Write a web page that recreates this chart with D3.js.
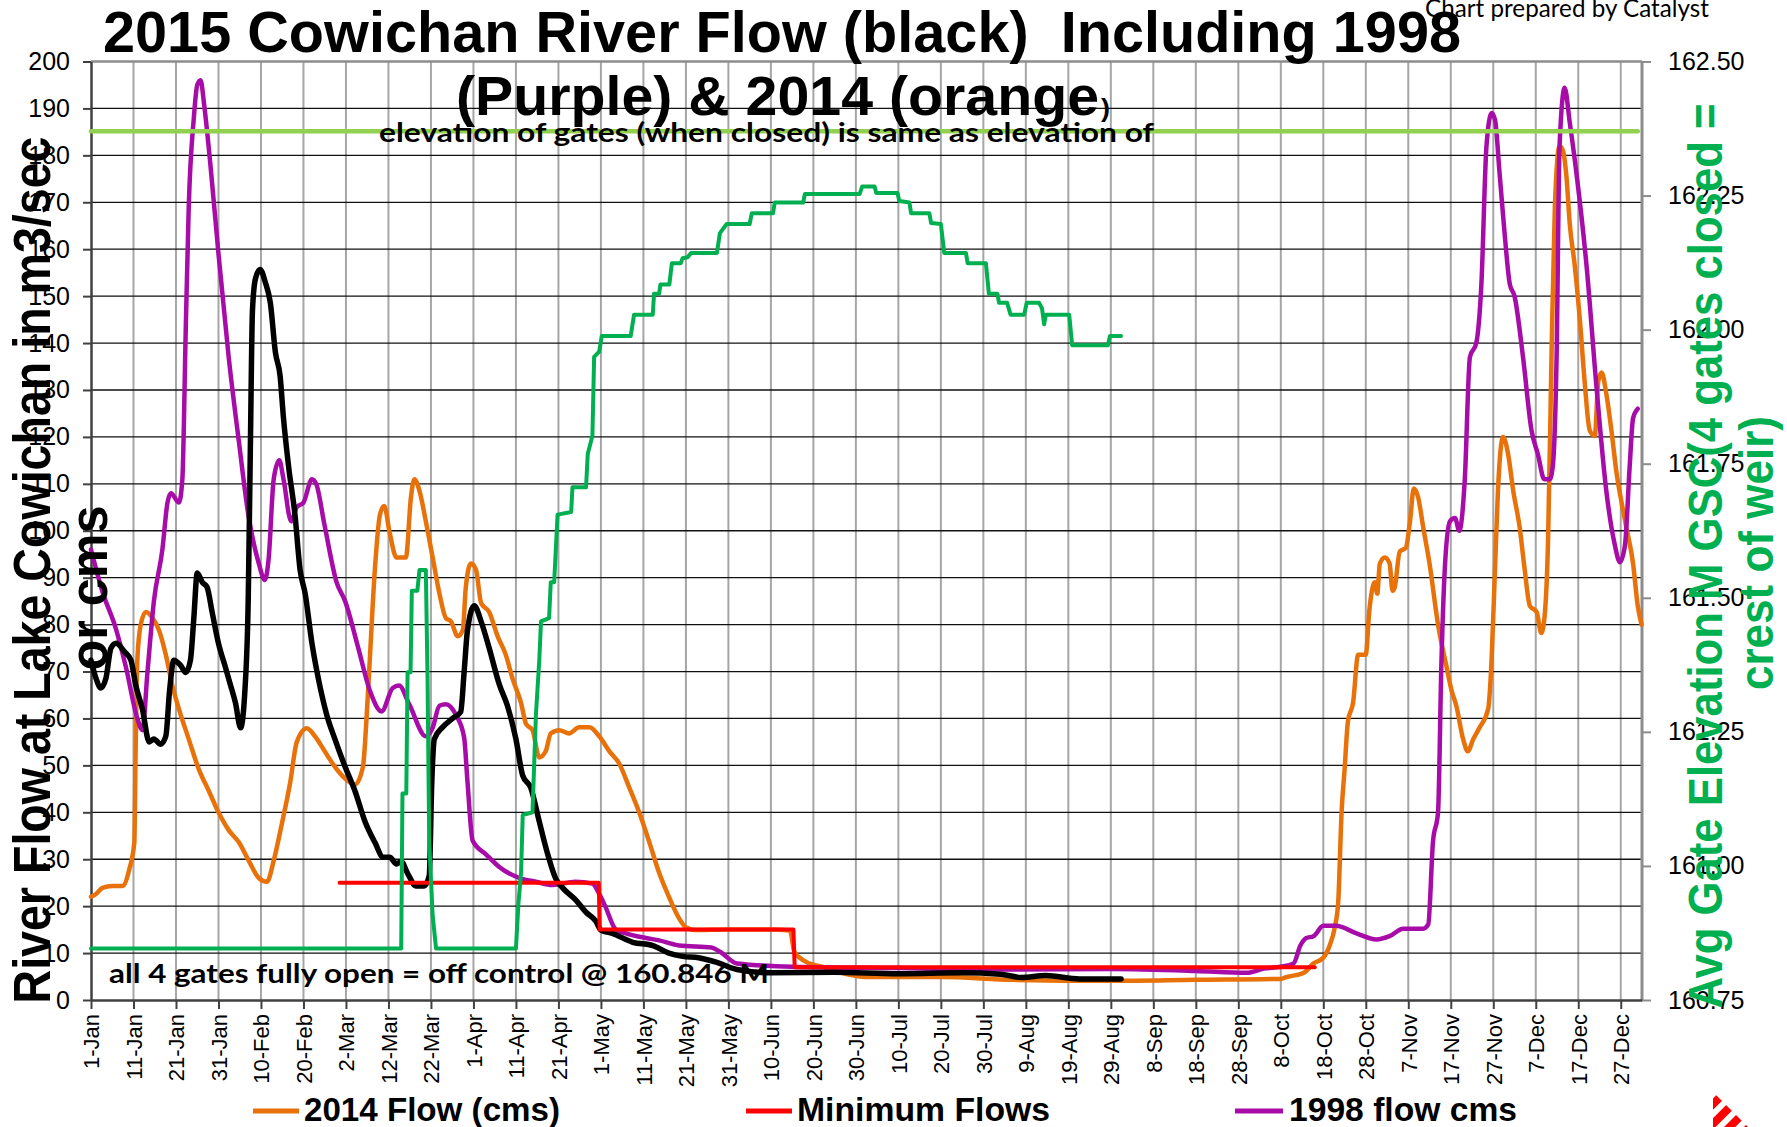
<!DOCTYPE html>
<html>
<head>
<meta charset="utf-8">
<script src="https://cdn.jsdelivr.net/npm/d3@7"></script>
<style>
  body { margin: 0; background: #fff; }
  svg { display: block; }
</style>
</head>
<body>
<div id="chart"></div>
<script>
// x tick labels, one every 10 days starting 1-Jan
const tickLabels = ["1-Jan", "11-Jan", "21-Jan", "31-Jan", "10-Feb", "20-Feb", "2-Mar", "12-Mar", "22-Mar",
    "1-Apr", "11-Apr", "21-Apr", "1-May", "11-May", "21-May", "31-May", "10-Jun", "20-Jun", "30-Jun",
    "10-Jul", "20-Jul", "30-Jul", "9-Aug", "19-Aug", "29-Aug", "8-Sep", "18-Sep", "28-Sep", "8-Oct",
    "18-Oct", "28-Oct", "7-Nov", "17-Nov", "27-Nov", "7-Dec", "17-Dec", "27-Dec"]

const leftTicks = [0, 10, 20, 30, 40, 50, 60, 70, 80, 90, 100, 110, 120, 130, 140, 150, 160, 170, 180, 190, 200]
const rightTicks = [160.75, 161.00, 161.25, 161.50, 161.75, 162.00, 162.25, 162.50]

// [day of year (0 = 1-Jan), flow cms]
const flow2015 = [[0,72.4],[1.2,68.5],[2.3,66.5],[3.5,68.5],[4.7,75],[5.9,76],[7.8,74.3],[9.4,72.4],[10.5,67.2],
    [12.1,62],[13.7,55],[14.8,55.6],[16.4,54.5],[17.6,56.2],[18.5,66],[19.5,72.4],[21.1,71.3],[22.3,69.8],
    [23.4,72.4],[24.2,81.4],[25,91],[26.2,89],[27.3,88],[28.5,82.7],[30,76],[31.6,71],[32.8,67.2],[34,63.3],
    [35.2,58],[36.3,67.2],[37,85.3],[37.5,117.6],[38,147],[38.7,153.7],[39.8,155.7],[41,153],[42.2,148.6],
    [43.4,138],[44.5,133],[45.3,124],[46.5,113.7],[48,103.4],[49.2,91.7],[50.4,86.6],[52,76],[53.5,68.5],
    [55.5,60.7],[57.4,55.6],[59.8,49.7],[62.1,44.6],[64.5,38],[66.8,33.6],[68.8,30.4],[70.3,30.4],[71.9,29],
    [73,29.5],[74.5,27],[76.5,24.3],[78.4,24.3],[79.6,26.5],[80.2,46.5],[80.8,55.6],[82.7,58.1],[85.1,60],
    [87,61.4],[87.8,69.8],[88.6,78.8],[90.2,84],[91.8,80.7],[93.7,75],[96.1,67.2],[98,62.7],[100,55.6],
    [101.6,47.8],[103.5,45.2],[105.5,38],[107.5,31],[109.4,25.8],[111,23.9],[114.1,21.3],[116.5,18.7],
    [118.8,16.8],[120,14.9],[122.7,14.2],[127.5,12.3],[132.2,11.6],[136,10],[139.2,9.3],[143,9],[147.3,8],
    [152,6.5],[159.8,5.8],[175,5.9],[190,5.6],[205,5.8],[214,5.5],[219,4.8],[224.7,5.2],[232.6,4.5],[242.4,4.5]]

const flow2014 = [[0,22],[1.2,22.6],[2.7,23.9],[5,24.3],[7.4,24.3],[9,27.8],[10.2,33.6],[10.5,53],[10.9,72.4],
    [11.7,80],[12.9,82.7],[14.5,81.4],[16,78.8],[17.6,73.6],[19.1,67.2],[20.7,62],[23,55.6],[25.4,49.1],
    [27.7,44.6],[30,40],[32.4,36.2],[34.8,33.6],[37.1,29.7],[39.5,26],[41.4,25.2],[43,29.7],[44.9,37.5],
    [46.9,46.5],[48.4,54.9],[50.8,57.9],[52.7,56.2],[55,53],[57.4,49.7],[59.8,47.2],[62.1,45.9],[64,49.7],
    [64.8,59.4],[65.6,72.4],[66.8,91.7],[68,103.4],[69,105.3],[70.3,99.5],[71.9,94.3],[74.1,94.3],[75.3,107.2],
    [76.1,111],[77.3,108.5],[78.8,102],[80.4,94.3],[82,86.6],[83.5,81.4],[84.7,80.7],[86.3,77.5],[87.5,78.8],
    [88.2,87.9],[89.4,93],[90.6,91.7],[91.8,84.6],[93.7,82.7],[95.7,77.5],[97.6,73.6],[99.2,68.5],[101.2,63.3],
    [102.4,58.8],[103.9,57.5],[105.5,51.7],[107,53],[108.2,56.8],[110.2,57.5],[112.5,56.8],[114.9,58.1],
    [117.3,58.1],[119.6,56.2],[122,53],[124.3,50.4],[126.7,45.2],[129,40],[131.4,33.6],[133.7,27.1],[136,22],
    [138.4,17.4],[140,15.5],[142.4,14.9],[150,15],[160,15],[164.5,14.8],[165.5,10.3],[166.8,9],[169,7.8],
    [172,7.1],[178,5.5],[183,4.9],[200,4.9],[217,4.3],[240,4.1],[260,4.3],[280,4.5],[281.4,4.9],[285.4,5.8],
    [287.7,7.8],[290,9],[291.5,11.6],[292.7,15.5],[293.5,20.7],[294.3,40],[295,49],[295.8,59.4],[297,63.3],
    [298.2,73.6],[300,73.6],[300.8,82.7],[301.6,87.9],[302.1,89],[302.7,86.6],[303.3,93],[304.5,94.3],
    [305.6,93],[306.3,87.2],[306.8,87.9],[308,95.6],[309.4,96.3],[310.4,102],[311.3,109],[312.3,107.2],
    [313.5,100.8],[315,93],[317,80],[319,71],[320.2,65.9],[321.3,62.7],[322.9,55.6],[324,53],[325.3,55.6],
    [326.8,58.1],[328.8,62],[329.6,72.4],[330.4,91.7],[331.1,108.5],[332.3,120],[333.5,116.3],[334.7,108.5],
    [336.2,100.8],[337.4,91.7],[338.6,84],[340.2,82.7],[341.3,78.2],[342.1,82],[342.9,98.2],[343.7,137],
    [344.5,169.2],[345.6,182],[346.4,181],[347.2,175.7],[348,165.4],[349.2,156.3],[350.4,144.7],[351.5,131.8],
    [352.7,121.4],[353.9,120.2],[354.7,131.8],[355.5,133.7],[356.6,129.2],[357.8,121.4],[359,112.4],
    [360.2,106],[361.3,100.8],[362.9,93],[364,84],[364.9,80]]

const flow1998 = [[0,96],[2.7,87],[5.9,79],[8.2,71],[10.9,60],[12.1,57.5],[13.3,70],[14.8,85],[16.8,96],[18,106],
    [18.8,108],[20.7,106],[21.5,111],[22.3,143],[23,169],[24.2,188],[25,195],[25.8,196],[26.6,191],[28.1,178],
    [30,159],[32.4,137],[34.8,119],[37.1,103],[39.5,93],[40.9,89.5],[41.8,94],[43,111],[44.3,115],[45.3,111],
    [47.1,102],[48.4,105],[50,106],[52,111],[53,110],[55,101],[57.8,89],[59.8,85],[62.9,75],[65.6,66],
    [68.4,61.5],[71,66.5],[72.5,67],[74.9,63],[78.8,56.2],[80.4,58],[82,62.7],[83.5,63],[85.9,60.7],[87.8,56],
    [88.6,46.5],[89.8,34],[93,31],[96,28.4],[100.8,26],[104.7,25.2],[108.6,24.5],[114,25.2],[118,24.8],
    [119.6,22.6],[121,20],[123.5,15],[125.9,14.2],[130.6,13.2],[133.7,12.7],[138.4,11.6],[146,11.2],
    [148,10.3],[152,7.8],[165,7.1],[190,6.8],[217,6.5],[240,6.6],[260,6.2],[272,5.8],[276,6.7],[280,7.1],
    [283,7.8],[284.6,11.6],[286,13.2],[287.7,13.6],[290,15.8],[293,15.8],[297.8,14.2],[302.5,12.9],
    [305.6,13.6],[308.8,15.2],[313.5,15.2],[314.7,16.1],[315.8,33.6],[317,40],[317.8,72],[318.6,92],
    [319.8,102],[321,102.7],[322,100],[323.3,111],[324.5,137],[326,140],[327.2,152.5],[328.4,182],
    [329.6,189],[330.4,187.6],[331.5,176],[332.7,163],[333.9,152.5],[335,150],[337,137],[339,121.4],
    [340.5,116.3],[342,111],[343.3,111],[344,113.7],[344.9,137],[345.6,182],[346.8,194.4],[348,187],
    [349.6,176],[352,156],[354.3,130.5],[356.6,108.5],[358.6,97],[359.8,93.3],[361,97],[362.1,113.7],
    [362.9,124],[364,126]]

const minFlow = [[58.5,25],[119.5,25],[119.7,15],[165.3,15],[165.6,7],[288,7]]

// [day, avg gate elevation m GSC] on the right axis
const gateElev = [[0,160.846],[73,160.846],[73.3,161.135],[74.2,161.135],[74.5,161.361],[75.2,161.361],
    [75.5,161.513],[76.8,161.513],[77.3,161.552],[78.8,161.552],[79.2,161.35],[79.6,161.044],[80.4,160.908],
    [81.2,160.846],[100,160.846],[100.6,160.931],[101.2,160.986],[101.6,161.095],[103.9,161.1],[104.7,161.281],
    [105.5,161.384],[105.9,161.456],[107.8,161.462],[108.2,161.529],[109,161.529],[109.8,161.655],[113,161.66],
    [113.3,161.706],[116.5,161.706],[116.9,161.768],[118,161.802],[118.4,161.949],[119.6,161.959],
    [120.2,161.988],[127,161.988],[127.8,162.028],[132.2,162.028],[132.5,162.067],[133.7,162.067],
    [134,162.084],[136.1,162.084],[136.7,162.124],[138.8,162.124],[139.2,162.133],[140.4,162.135],
    [141.2,162.143],[147.3,162.143],[148,162.18],[149.6,162.197],[155,162.197],[155.5,162.217],[160.5,162.217],
    [160.9,162.237],[167.6,162.237],[168,162.253],[180.9,162.253],[181.5,162.267],[184.4,162.267],
    [184.8,162.255],[189.8,162.255],[190.2,162.24],[192.6,162.237],[193,162.217],[197.3,162.217],
    [197.7,162.199],[200,162.197],[200.8,162.143],[205.9,162.143],[206.3,162.124],[210.6,162.124],
    [211.3,162.067],[213.3,162.067],[213.7,162.05],[215.6,162.05],[216.4,162.028],[219.6,162.028],
    [220.2,162.05],[223.1,162.05],[223.8,162.04],[224.3,162.01],[224.7,162.028],[230.2,162.028],
    [230.9,161.971],[239.3,161.971],[239.8,161.988],[242.4,161.988]]

const gateClosed = [[0,162.37],[364,162.37]]

let margin = { top: 61.5, right: 145, bottom: 127, left: 91 },
    width = 1787 - margin.left - margin.right,
    height = 1127 - margin.top - margin.bottom;

const narrow = '"Liberation Sans Narrow", "Arial Narrow", "Liberation Sans", Arial, sans-serif'
const arial = '"Liberation Sans", Arial, sans-serif'
const calibri = 'Lato, "Open Sans", sans-serif'

function addText(parent, str, o) {
    const t = parent.append("text")
        .attr("x", o.x || 0)
        .attr("y", o.y || 0)
        .attr("font-family", o.family || narrow)
        .attr("font-size", o.size)
        .attr("font-weight", o.weight || "bold")
        .attr("fill", o.fill || "#000")
        .attr("text-anchor", o.anchor || "start")
        .style("white-space", "pre")
        .text(str)
    if (o.len) t.attr("textLength", o.len).attr("lengthAdjust", "spacingAndGlyphs")
    if (o.transform) t.attr("transform", o.transform)
    return t
}

function drawChart() {
    const svg = d3.select("#chart")
        .append("svg")
        .attr("width", 1787)
        .attr("height", 1127)

    const x = d3.scaleLinear().domain([0, 365]).range([0, width])
    const yL = d3.scaleLinear().domain([0, 200]).range([height, 0])
    const yR = d3.scaleLinear().domain([160.75, 162.5]).range([height, 0])

    const g = svg.append("g")
        .attr("transform", `translate(${margin.left},${margin.top})`)

    const tickDays = tickLabels.map((d, i) => i * 10)

    // grid
    g.append("g")
        .selectAll("line")
        .data(tickDays.slice(1))
        .join("line")
        .attr("x1", d => x(d)).attr("x2", d => x(d))
        .attr("y1", 0).attr("y2", height)
        .attr("stroke", "#a6a6a6")
        .attr("stroke-width", 2)

    g.append("g")
        .selectAll("line")
        .data(leftTicks.filter(d => d > 0 && d < 200))
        .join("line")
        .attr("x1", 0).attr("x2", width)
        .attr("y1", d => yL(d)).attr("y2", d => yL(d))
        .attr("stroke", "#111")
        .attr("stroke-width", 1.3)

    // frame
    g.append("line").attr("x1", 0).attr("x2", width).attr("y1", 0).attr("y2", 0)
        .attr("stroke", "#8c8c8c").attr("stroke-width", 2.5)
    g.append("line").attr("x1", width).attr("x2", width).attr("y1", 0).attr("y2", height)
        .attr("stroke", "#8c8c8c").attr("stroke-width", 3)

    // axes
    const xAxis = g.append("g")
        .attr("transform", `translate(0,${height})`)
        .call(d3.axisBottom(x).tickValues(tickDays).tickFormat((d, i) => tickLabels[i]).tickSize(9).tickSizeOuter(0))
    xAxis.select(".domain").attr("stroke", "#404040").attr("stroke-width", 2.5)
    xAxis.selectAll(".tick line").attr("stroke", "#404040").attr("stroke-width", 2)
    xAxis.selectAll(".tick text")
        .attr("font-family", arial)
        .attr("font-size", 22)
        .attr("fill", "#000")
        .attr("transform", "rotate(-90)")
        .attr("text-anchor", "end")
        .attr("x", -14)
        .attr("y", 0)
        .attr("dy", "0.36em")

    const leftAxis = g.append("g")
        .call(d3.axisLeft(yL).tickValues(leftTicks).tickSize(8).tickPadding(13).tickSizeOuter(0))
    leftAxis.select(".domain").attr("stroke", "#404040").attr("stroke-width", 2.5)
    leftAxis.selectAll(".tick line").attr("stroke", "#404040").attr("stroke-width", 2)
    leftAxis.selectAll(".tick text")
        .attr("font-family", arial)
        .attr("font-size", 25)
        .attr("fill", "#000")

    const rightAxis = g.append("g")
        .attr("transform", `translate(${width},0)`)
        .call(d3.axisRight(yR).tickValues(rightTicks).tickFormat(d3.format(".2f")).tickSize(9).tickPadding(17).tickSizeOuter(0))
    rightAxis.select(".domain").remove()
    rightAxis.selectAll(".tick line").attr("stroke", "#8c8c8c").attr("stroke-width", 2)
    rightAxis.selectAll(".tick text")
        .attr("font-family", arial)
        .attr("font-size", 25)
        .attr("fill", "#000")

    // series
    const lineL = d3.line().x(d => x(d[0])).y(d => yL(d[1])).curve(d3.curveMonotoneX)
    const stepL = d3.line().x(d => x(d[0])).y(d => yL(d[1]))
    const lineR = d3.line().x(d => x(d[0])).y(d => yR(d[1]))

    const series = [
        { data: flow2014, gen: lineL, color: "#e8710a", w: 4.5 },
        { data: flow1998, gen: lineL, color: "#a80ca8", w: 4.5 },
        { data: flow2015, gen: lineL, color: "#000000", w: 5.5 },
        { data: minFlow, gen: stepL, color: "#ff0000", w: 4 },
        { data: gateElev, gen: lineR, color: "#00b050", w: 4 },
        { data: gateClosed, gen: lineR, color: "#92d050", w: 4.5 }
    ]

    g.append("g")
        .selectAll("path")
        .data(series)
        .join("path")
        .attr("d", d => d.gen(d.data))
        .attr("fill", "none")
        .attr("stroke", d => d.color)
        .attr("stroke-width", d => d.w)
        .attr("stroke-linejoin", "round")
        .attr("stroke-linecap", "round")

    // texts
    addText(svg, "2015 Cowichan River Flow (black)  Including 1998", { x: 103, y: 52, size: 57, len: 1358 })
    addText(svg, "(Purple) & 2014 (orange", { x: 456, y: 115, size: 56, len: 643 })
    addText(svg, ")", { x: 1101, y: 117, size: 26, len: 9 })
    addText(svg, "Chart prepared by Catalyst", { x: 1425, y: 17, size: 25, weight: "normal", family: calibri, len: 284 })
    addText(svg, "elevation of gates (when closed) is same as elevation of", { x: 379, y: 142, size: 27, family: calibri, len: 775 })
    addText(svg, "all 4 gates fully open = off control @ 160.846 M", { x: 109, y: 983, size: 27, family: calibri, len: 660 })

    addText(svg, "River Flow at Lake Cowichan in m3/sec", { size: 51, anchor: "middle", len: 867, transform: "translate(50,570) rotate(-90)" })
    addText(svg, "or cms", { size: 51, anchor: "middle", len: 165, transform: "translate(107,588) rotate(-90)" })
    addText(svg, "Avg Gate Elevation M GSC(4 gates closed =", { size: 49, anchor: "middle", len: 905, fill: "#00b050", transform: "translate(1722,556) rotate(-90)" })
    addText(svg, "crest of weir)", { size: 49, anchor: "middle", len: 274, fill: "#00b050", transform: "translate(1773,553) rotate(-90)" })

    // legend
    const legend = [
        { label: "2014 Flow (cms)", color: "#e8710a", x1: 253, x2: 299, tx: 304, len: 256 },
        { label: "Minimum Flows", color: "#ff0000", x1: 746, x2: 792, tx: 797, len: 253 },
        { label: "1998 flow cms", color: "#a80ca8", x1: 1235, x2: 1283, tx: 1289, len: 228 }
    ]
    const lg = svg.append("g")
    legend.forEach(l => {
        lg.append("line").attr("x1", l.x1).attr("x2", l.x2).attr("y1", 1111).attr("y2", 1111)
            .attr("stroke", l.color).attr("stroke-width", 5)
        addText(lg, l.label, { x: l.tx, y: 1121, size: 33, len: l.len })
    })

    // red striped corner mark
    const defs = svg.append("defs")
    defs.append("pattern")
        .attr("id", "stripes")
        .attr("width", 14).attr("height", 14)
        .attr("patternUnits", "userSpaceOnUse")
        .attr("patternTransform", "rotate(45)")
        .append("rect").attr("width", 8).attr("height", 14).attr("fill", "#ff0000")
    svg.append("polygon")
        .attr("points", "1713,1092 1752,1131 1713,1131")
        .attr("fill", "url(#stripes)")
}

drawChart()
</script>
</body>
</html>
